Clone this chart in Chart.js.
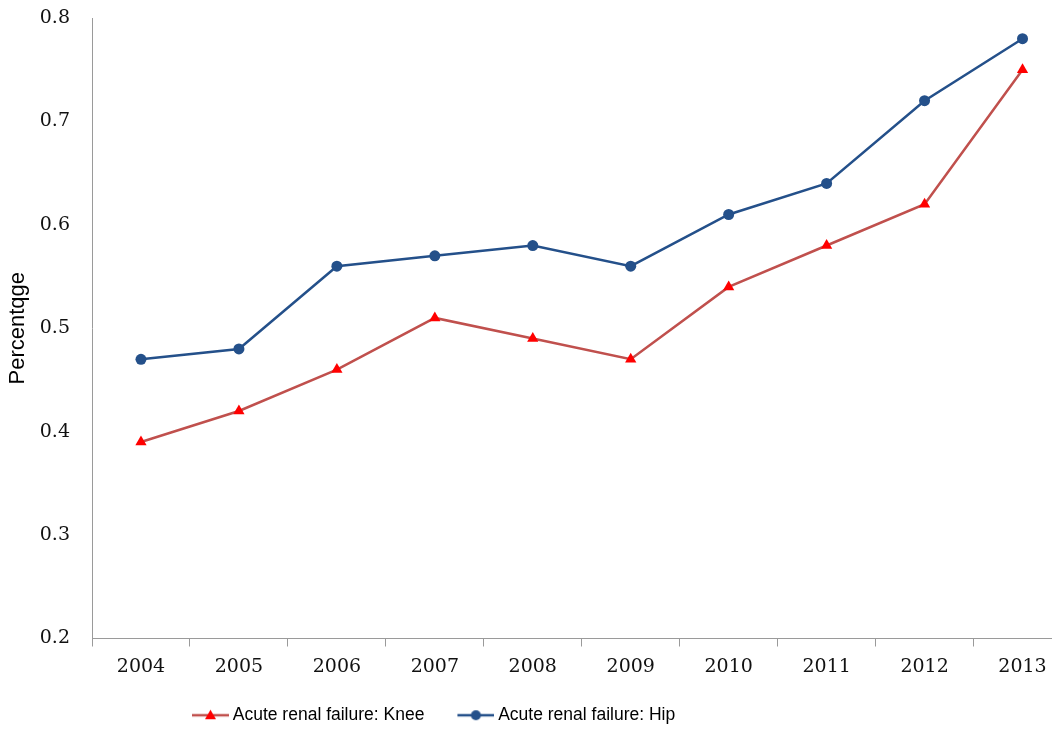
<!DOCTYPE html>
<html>
<head>
<meta charset="utf-8">
<script src="https://cdn.jsdelivr.net/npm/chart.js@4/dist/chart.umd.min.js"></script>
<style>
  html, body { margin: 0; padding: 0; background: #fff; overflow: hidden; }
  canvas { display: block; }
</style>
</head>
<body>
<canvas id="grafico" width="1078" height="731"></canvas>
<script>
// dados
const anos = ['2004', '2005', '2006', '2007', '2008', '2009', '2010', '2011', '2012', '2013']
const joelho = [0.39, 0.42, 0.46, 0.51, 0.49, 0.47, 0.54, 0.58, 0.62, 0.75]
const quadril = [0.47, 0.48, 0.56, 0.57, 0.58, 0.56, 0.61, 0.64, 0.72, 0.78]

const corJoelhoLinha = '#C0504D'
const corJoelhoPonto = '#FF0000'
const corQuadril = '#24508A'

// amostra de legenda estilo Excel (linha + marcador)
function amostra(corLinha, corPonto, forma) {
    const c = document.createElement('canvas')
    c.width = 69
    c.height = 14
    const g = c.getContext('2d')
    g.strokeStyle = corLinha
    g.lineWidth = 2.5
    g.beginPath()
    g.moveTo(32, 7)
    g.lineTo(69, 7)
    g.stroke()
    g.fillStyle = corPonto
    g.beginPath()
    if (forma === 'triangle') {
        g.moveTo(50.5, 1.5)
        g.lineTo(56, 11)
        g.lineTo(45, 11)
        g.closePath()
    } else {
        g.arc(50.5, 7, 5, 0, Math.PI * 2)
    }
    g.fill()
    return c
}

const amostras = [
    amostra(corJoelhoLinha, corJoelhoPonto, 'triangle'),
    amostra(corQuadril, corQuadril, 'circle')
]

// move a legenda para a esquerda (e um pouco p/ baixo) como no original
const posLegenda = {
    id: 'posLegenda',
    afterLayout(chart) {
        chart.legend.left = 159
        chart.legend.top += 3
    }
}

const ctx = document.getElementById('grafico').getContext('2d')

new Chart(ctx, {
    type: 'line',
    data: {
        labels: anos,
        datasets: [{
            label: 'Acute renal failure: Knee',
            data: joelho,
            borderColor: corJoelhoLinha,
            backgroundColor: corJoelhoPonto,
            borderWidth: 2.5,
            pointStyle: 'triangle',
            pointRadius: 6.5,
            pointBorderWidth: 0,
            pointBackgroundColor: corJoelhoPonto,
            tension: 0
        }, {
            label: 'Acute renal failure: Hip',
            data: quadril,
            borderColor: corQuadril,
            backgroundColor: corQuadril,
            borderWidth: 2.5,
            pointStyle: 'circle',
            pointRadius: 5.5,
            pointBorderWidth: 0,
            pointBackgroundColor: corQuadril,
            tension: 0
        }]
    },
    options: {
        responsive: false,
        animation: false,
        layout: {
            padding: { top: 18, right: 3, left: 0, bottom: 0 }
        },
        plugins: {
            tooltip: { enabled: false },
            legend: {
                position: 'bottom',
                align: 'start',
                labels: {
                    usePointStyle: true,
                    pointStyleWidth: 59,
                    padding: 6,
                    color: '#000',
                    font: { family: '"Liberation Sans", Arial, sans-serif', size: 17.5 },
                    generateLabels(chart) {
                        const itens = Chart.defaults.plugins.legend.labels.generateLabels(chart)
                        itens.forEach((it, i) => { it.pointStyle = amostras[i] })
                        return itens
                    }
                }
            }
        },
        scales: {
            x: {
                offset: true,
                grid: {
                    offset: true,
                    drawOnChartArea: false,
                    drawTicks: true,
                    tickLength: 8,
                    color: '#9a9a9a'
                },
                border: { display: true, color: '#9a9a9a', width: 1 },
                ticks: {
                    padding: 9,
                    color: '#111',
                    font: { family: '"DejaVu Serif", serif', size: 19 }
                },
                afterFit(scale) {
                    scale.height = 59
                    scale.paddingLeft = 0
                    scale.paddingRight = 0
                }
            },
            y: {
                min: 0.2,
                max: 0.8,
                grid: { display: false, drawTicks: false },
                border: { display: true, color: '#9a9a9a', width: 1 },
                ticks: {
                    stepSize: 0.1,
                    padding: 22,
                    color: '#111',
                    font: { family: '"DejaVu Serif", serif', size: 19 },
                    callback: (v) => v.toFixed(1)
                },
                title: {
                    display: true,
                    text: 'Percentqge',
                    color: '#000',
                    padding: { top: 5, bottom: 0 },
                    font: { family: '"Liberation Sans", Arial, sans-serif', size: 22 }
                },
                afterFit(scale) {
                    scale.width = 92
                    scale.paddingTop = 0
                    scale.paddingBottom = 0
                }
            }
        }
    },
    plugins: [posLegenda]
})
</script>
</body>
</html>
